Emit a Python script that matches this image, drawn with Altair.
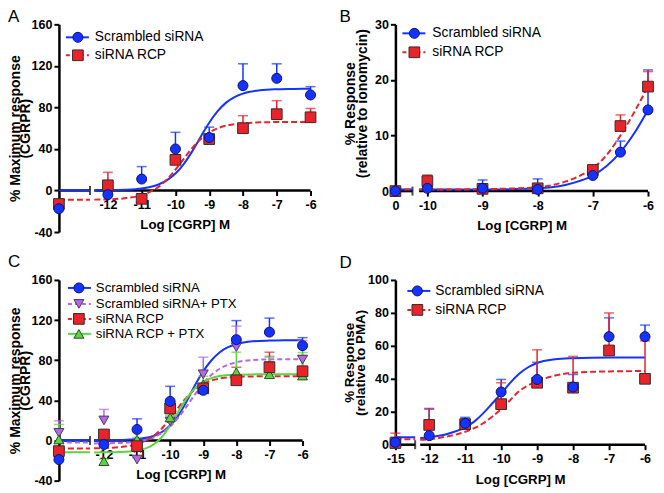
import altair as alt
import pandas as pd

FONT = "Liberation Sans"

# ---------------- Panel A : cAMP, % maximum response ----------------
A_conc = ["basal", -12, -11, -10, -9, -8, -7, -6]
A_scr = [-17.5, -4, 11, 40, 51, 101, 108, 92]
A_scr_err = [2, 2, 12, 16, 10, 21, 14, 8]
A_rcp = [-13, 5, -8, 29.5, 49.5, 60, 73.5, 70.5]
A_rcp_err = [2, 12.5, 2, 2, 2, 12, 13, 8.5]
A_fit_x = [-12.4, -12, -11.5, -11, -10.5, -10.25, -10, -9.75, -9.5, -9.25, -9,
           -8.75, -8.5, -8.25, -8, -7.5, -7, -6.5, -6]
A_scr_fit = [0.1, 0.2, 0.6, 1.9, 5.8, 10, 16.3, 25.7, 37.9, 51.8, 65.3,
             76.4, 84.6, 90, 93.3, 96.5, 97.5, 97.8, 98]
A_rcp_fit = [-8.8, -8.5, -7.5, -4.5, 3.5, 10.6, 20, 30.7, 41, 49.5, 55.8,
             59.9, 62.4, 63.9, 64.8, 65.6, 65.9, 66, 66]
A_scr_basal = 0
A_rcp_basal = -9

# ---------------- Panel B : % response relative to ionomycin ----------------
B_conc = ["basal", -10, -9, -8, -7, -6.5, -6]
B_scr = [0, 0.5, 0.5, 0.3, 2.8, 7.0, 14.6]
B_scr_err = [0.2, 0.3, 1.5, 1.9, 1.6, 2.0, 7.2]
B_rcp = [0, 1.8, 0.4, 0.5, 3.8, 11.7, 18.8]
B_rcp_err = [0.2, 1.1, 0.3, 0.3, 0.6, 2.0, 2.7]
B_fit_x = [-10.15, -10, -9.5, -9, -8.5, -8, -7.75, -7.5, -7.25, -7, -6.75, -6.5, -6.25, -6]
B_scr_fit = [0.3, 0.3, 0.3, 0.3, 0.35, 0.5, 0.7, 1.1, 1.8, 2.8, 4.5, 7.0, 10.4, 14.6]
B_rcp_fit = [0.3, 0.3, 0.3, 0.35, 0.45, 0.7, 1.05, 1.7, 2.7, 4.1, 6.5, 10.0, 14.2, 18.8]
B_scr_basal = 0.3
B_rcp_basal = 0.3

# ---------------- Panel C : cAMP with PTX ----------------
C_conc = ["basal", -12, -11, -10, -9, -8, -7, -6]
C_scr = [-19, -4, 11, 39, 50, 100.5, 108, 94.5]
C_scr_err = [2, 2, 10.6, 15, 3, 19, 14, 8]
C_scrptx = [7.6, 20, -19, 19, 66, 93, 74, 80.6]
C_scrptx_err = [12, 11, 2, 3, 17, 21, 10, 19]
C_rcp = [-10.6, 6, -5.6, 32, 52, 60, 73, 69]
C_rcp_err = [2, 4, 2, 2, 2, 13, 15, 15.6]
C_rcpptx = [1, -20.6, 1, 23, 56, 68, 66, 64.7]
C_rcpptx_err = [15, 2, 2, 2, 8, 20, 17, 23]
C_fit_x = [-12.3, -12, -11.5, -11, -10.5, -10.25, -10, -9.75, -9.5, -9.25, -9,
           -8.75, -8.5, -8.25, -8, -7.5, -7, -6.5, -6]
C_scr_fit = [0.1, 0.2, 0.5, 1.5, 4.5, 8.5, 15, 25, 39, 55, 69, 80, 88, 93, 96, 98.8, 99.6, 99.9, 100]
C_scrptx_fit = [-2.9, -2.8, -2.4, -1, 3, 7.5, 14, 23, 34, 46, 57, 65.5, 71.5, 75.5, 78, 80.2, 80.8, 81, 81]
C_rcp_fit = [-7.7, -7.5, -6.5, -3.5, 4.5, 12, 22, 33, 43, 51, 56.5, 59.8, 61.8, 62.9, 63.4, 63.9, 64, 64, 64]
C_rcpptx_fit = [-11.9, -11.8, -11.5, -10, -4, 3.5, 15, 29, 42, 52, 58.5, 62.2, 64.2, 65.2, 65.6, 65.9, 66, 66, 66]
C_scr_basal = 0
C_scrptx_basal = -2
C_rcp_basal = -8
C_rcpptx_basal = -11.8

# ---------------- Panel D : % response relative to PMA ----------------
D_conc = ["basal", -12, -11, -10, -9, -8, -7, -6]
D_scr = [1.4, 5.5, 13, 32, 39.6, 35, 65.6, 65.6]
D_scr_err = [3.2, 16.5, 3.6, 7.6, 10.4, 7.6, 11.4, 7]
D_rcp = [1, 12, 12.5, 24.6, 37.6, 34.6, 57.2, 40]
D_rcp_err = [6, 9.5, 2, 13, 20, 19, 22.8, 23]
D_fit_x = [-12.25, -12, -11.5, -11, -10.75, -10.5, -10.25, -10, -9.75, -9.5, -9.25, -9, -8.5, -8, -7, -6]
D_scr_fit = [4.0, 4.5, 6.5, 10.5, 14, 19, 25, 31, 37.5, 43, 47, 49.6, 51.8, 52.5, 53, 53]
D_rcp_fit = [3.0, 3.3, 5, 7.8, 10, 13, 17, 21.6, 27, 32.5, 36, 38.5, 42, 43.6, 44.5, 44.7]
D_scr_basal = 4.5
D_rcp_basal = 3.3

NAMES = ["Scrambled siRNA", "Scrambled siRNA+ PTX", "siRNA RCP", "siRNA RCP + PTX"]

STYLE = {
    NAMES[0]: dict(color="#1433ff", shape="circle", dash=None, stroke="#101070", size=100),
    NAMES[1]: dict(color="#b368e8", shape="triangle-down", dash=[5, 3], stroke="#4a3a5a", size=100),
    NAMES[2]: dict(color="#e8232a", shape="square", dash=[6, 3], stroke="#3a2a2a", size=115),
    NAMES[3]: dict(color="#5ad63c", shape="triangle-up", dash=None, stroke="#2f4a2a", size=100),
}


def build_panel(p):
    xb, xe, xs = p["basal"], p["brk"], p["start"]
    xsc = alt.Scale(domain=[xb, -6], nice=False, zero=False)
    ysc = alt.Scale(domain=p["ydomain"], nice=False, zero=False)
    x_axis = alt.Axis(
        values=p["xticks"], labelExpr=p["xlabel"], domain=False, grid=False,
        title="Log [CGRP] M", titleFont=FONT, titleFontSize=13.3, titleFontWeight="bold",
        titleColor="black", titlePadding=7, labelFont=FONT, labelFontSize=12.5,
        labelFontWeight="bold", labelColor="black", labelPadding=3, labelOverlap=False,
        labelFlush=False, tickColor="black", tickWidth=2, tickSize=5, offset=p["xoffset"],
    )
    yax = dict(
        values=p["yticks"], grid=False, title=p["ytitle"], titleFont=FONT,
        titleFontSize=p["ytitle_size"], titleFontWeight="bold", titleColor="black",
        titleLineHeight=p["ytitle_lh"], titleX=p["titleX"],
        labelExpr="datum.value < 0 ? '-' + format(-datum.value, 'd') : format(datum.value, 'd')",
        labelFont=FONT, labelFontSize=12.5, labelFontWeight="bold", labelColor="black",
        labelPadding=2, domainColor="black", domainWidth=2.5, tickColor="black",
        tickWidth=2, tickSize=5,
    )
    if p.get("titleY") is not None:
        yax["titleY"] = p["titleY"]
    y_axis = alt.Axis(**yax)

    def X(f):
        return alt.X(f, type="quantitative", scale=xsc, axis=x_axis)

    def Y(f):
        return alt.Y(f, type="quantitative", scale=ysc, axis=y_axis)

    layers = []
    # broken x axis line
    axis_df = pd.DataFrame({"x": [xb, xs], "x2": [xe, -6], "y": [0, 0]})
    layers.append(alt.Chart(axis_df).mark_rule(color="black", strokeWidth=2.5)
                  .encode(x=X("x"), x2="x2", y=Y("y")))
    brk_df = pd.DataFrame({"x": [xe], "y": [0]})
    layers.append(alt.Chart(brk_df).mark_tick(orient="vertical", size=9, thickness=2, color="black")
                  .encode(x=X("x"), y=Y("y")))

    xs_data = [xb if c == "basal" else c for c in p["conc"]]

    # fitted curves
    for s in p["series"]:
        st = STYLE[s["name"]]
        fit_df = pd.DataFrame({
            "x": [xb, xe] + list(p["fit_x"]),
            "y": [s["basal_fit"], s["basal_fit"]] + list(s["fit"]),
            "seg": ["basal", "basal"] + ["main"] * len(p["fit_x"]),
        })
        mk = dict(color=st["color"], strokeWidth=2, interpolate="monotone")
        if st["dash"]:
            mk["strokeDash"] = st["dash"]
        layers.append(alt.Chart(fit_df).mark_line(**mk)
                      .encode(x=X("x"), y=Y("y"), detail="seg:N"))

    # error bars (upper only) and caps
    for s in p["series"]:
        st = STYLE[s["name"]]
        e_df = pd.DataFrame({"x": xs_data, "y": s["y"],
                             "y2": [a + b for a, b in zip(s["y"], s["err"])]})
        layers.append(alt.Chart(e_df).mark_rule(color=st["color"], strokeWidth=1.5)
                      .encode(x=X("x"), y=Y("y"), y2="y2"))
        layers.append(alt.Chart(e_df).mark_tick(orient="horizontal", size=10, thickness=1.5,
                                                color=st["color"])
                      .encode(x=X("x"), y=Y("y2")))

    # data points, in drawing order
    for s in sorted(p["series"], key=lambda d: d["z"]):
        st = STYLE[s["name"]]
        pt_df = pd.DataFrame({"x": xs_data, "y": s["y"]})
        layers.append(alt.Chart(pt_df).mark_point(
            shape=st["shape"], filled=True, size=st["size"], fill=st["color"],
            stroke=st["stroke"], strokeWidth=1, opacity=1, fillOpacity=1)
            .encode(x=X("x"), y=Y("y")))

    # legend
    lg = p["legend"]
    for i, s in enumerate(p["series"]):
        st = STYLE[s["name"]]
        ly = lg["rows"][i]
        ldf = pd.DataFrame({"name": [s["name"]]})
        rk = dict(color=st["color"], strokeWidth=2)
        if st["dash"]:
            rk["strokeDash"] = [4, 3]
        layers.append(alt.Chart(ldf).mark_rule(**rk).encode(
            x=alt.value(lg["x1"]), x2=alt.value(lg["x2"]), y=alt.value(ly)))
        layers.append(alt.Chart(ldf).mark_point(
            shape=st["shape"], filled=True, size=st["size"], fill=st["color"],
            stroke=st["stroke"], strokeWidth=1, opacity=1, fillOpacity=1).encode(
            x=alt.value(lg["xc"]), y=alt.value(ly)))
        layers.append(alt.Chart(ldf).mark_text(
            align="left", baseline="middle", font=FONT, fontSize=lg["font"], color="black")
            .encode(x=alt.value(lg["tx"]), y=alt.value(ly), text="name:N"))

    # panel letter
    let_df = pd.DataFrame({"letter": [p["letter"]]})
    layers.append(alt.Chart(let_df).mark_text(
        align="left", baseline="alphabetic", font=FONT, fontSize=17, color="black")
        .encode(x=alt.value(p["letter_pos"][0]), y=alt.value(p["letter_pos"][1]), text="letter:N"))

    return alt.layer(*layers).properties(width=p["width"], height=p["height"])


def num_label(basal_text, basal_pos=None):
    if basal_text is None:
        return "'-' + format(abs(datum.value), 'd')"
    return "abs(datum.value - (%s)) < 0.01 ? '%s' : '-' + format(abs(datum.value), 'd')" % (basal_pos, basal_text)


panel_A = dict(
    conc=A_conc, basal=-13.45, brk=-12.53, start=-12.4, ydomain=[-40, 160],
    yticks=[-40, 0, 40, 80, 120, 160], xticks=[-12, -11, -10, -9, -8, -7, -6],
    xlabel=num_label(None), xoffset=-41.6, width=252, height=208,
    ytitle=["% Maximum response", "(CGRPR)"], ytitle_size=14, ytitle_lh=10, titleX=-36,
    fit_x=A_fit_x, letter="A", letter_pos=(-51, -2),
    series=[
        dict(name=NAMES[0], y=A_scr, err=A_scr_err, fit=A_scr_fit, basal_fit=A_scr_basal, z=2),
        dict(name=NAMES[2], y=A_rcp, err=A_rcp_err, fit=A_rcp_fit, basal_fit=A_rcp_basal, z=1),
    ],
    legend=dict(rows=[13, 31], x1=7, x2=30, xc=19, tx=36, font=13.8),
)

panel_B = dict(
    conc=B_conc, basal=-10.58, brk=-10.27, start=-10.15, ydomain=[0, 30],
    yticks=[0, 10, 20, 30], xticks=[-10.58, -10, -9, -8, -7, -6],
    xlabel=num_label("0", -10.58), xoffset=0, width=253, height=167,
    ytitle=["% Response", "(relative to ionomycin)"], ytitle_size=14, ytitle_lh=12, titleX=-38,
    titleY=79,
    fit_x=B_fit_x, letter="B", letter_pos=(-56, -2),
    series=[
        dict(name=NAMES[0], y=B_scr, err=B_scr_err, fit=B_scr_fit, basal_fit=B_scr_basal, z=2),
        dict(name=NAMES[2], y=B_rcp, err=B_rcp_err, fit=B_rcp_fit, basal_fit=B_rcp_basal, z=1),
    ],
    legend=dict(rows=[9, 28], x1=7, x2=30, xc=19, tx=37, font=13.8),
)

panel_C = dict(
    conc=C_conc, basal=-13.36, brk=-12.42, start=-12.3, ydomain=[-40, 160],
    yticks=[-40, 0, 40, 80, 120, 160], xticks=[-12, -11, -10, -9, -8, -7, -6],
    xlabel=num_label(None), xoffset=-40.2, width=244, height=201,
    ytitle=["% Maximum response", "(CGRPR)"], ytitle_size=14, ytitle_lh=10, titleX=-36,
    fit_x=C_fit_x, letter="C", letter_pos=(-51, -13),
    series=[
        dict(name=NAMES[0], y=C_scr, err=C_scr_err, fit=C_scr_fit, basal_fit=C_scr_basal, z=4),
        dict(name=NAMES[1], y=C_scrptx, err=C_scrptx_err, fit=C_scrptx_fit, basal_fit=C_scrptx_basal, z=1),
        dict(name=NAMES[2], y=C_rcp, err=C_rcp_err, fit=C_rcp_fit, basal_fit=C_rcp_basal, z=3),
        dict(name=NAMES[3], y=C_rcpptx, err=C_rcpptx_err, fit=C_rcpptx_fit, basal_fit=C_rcpptx_basal, z=2),
    ],
    legend=dict(rows=[8, 24, 39, 54], x1=9, x2=32, xc=20, tx=37, font=13.2),
)

panel_D = dict(
    conc=D_conc, basal=-12.94, brk=-12.39, start=-12.25, ydomain=[0, 100],
    yticks=[0, 20, 40, 60, 80, 100], xticks=[-12.94, -12, -11, -10, -9, -8, -7, -6],
    xlabel=num_label("-15", -12.94), xoffset=0, width=250, height=165,
    ytitle=["% Response", "(relative to PMA)"], ytitle_size=13.5, ytitle_lh=11, titleX=-39,
    fit_x=D_fit_x, letter="D", letter_pos=(-56, -12),
    series=[
        dict(name=NAMES[0], y=D_scr, err=D_scr_err, fit=D_scr_fit, basal_fit=D_scr_basal, z=2),
        dict(name=NAMES[2], y=D_rcp, err=D_rcp_err, fit=D_rcp_fit, basal_fit=D_rcp_basal, z=1),
    ],
    legend=dict(rows=[11, 30], x1=12, x2=35, xc=22, tx=40, font=13.8),
)

chart = (
    alt.concat(build_panel(panel_A), build_panel(panel_B),
               build_panel(panel_C), build_panel(panel_D),
               columns=2, spacing=alt.RowColnumber(column=85, row=48), bounds="flush")
    .properties(padding={"left": 0, "top": 0, "right": 0, "bottom": 0})
    .configure_view(stroke=None)
)

chart.save("out.html", embed_options={"renderer": "svg", "actions": False})
